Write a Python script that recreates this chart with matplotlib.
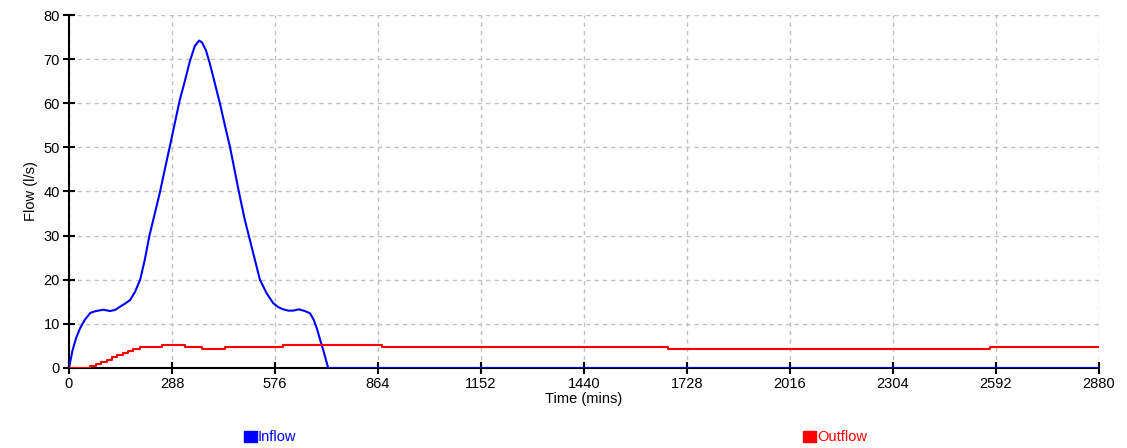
import matplotlib
matplotlib.use("Agg")
import matplotlib.pyplot as plt
from matplotlib.patches import Rectangle

plt.rcParams['font.family'] = ['Liberation Sans', 'DejaVu Sans']

# inflow hydrograph (mins, l/s)
in_t = [0, 10, 20, 31, 45, 60, 75, 96, 115, 130, 143, 157, 171, 185, 199, 212,
        225, 240, 254, 268, 282, 296, 310, 324, 338, 352, 364, 372, 383, 394,
        408, 422, 436, 450, 464, 478, 492, 506, 520, 534, 553, 571, 585, 599,
        613, 627, 643, 660, 674, 684, 693, 702, 711, 718, 725, 2880]
in_q = [0, 4, 6.8, 9, 11, 12.5, 12.9, 13.2, 12.9, 13.2, 13.9, 14.6, 15.4, 17.3,
        20, 24.5, 30, 35, 39.7, 45, 50.2, 55.5, 60.8, 65, 69.5, 73, 74.2, 73.8,
        72, 69, 64.5, 60, 55, 50.2, 44.5, 38.8, 33.5, 29, 24.5, 20, 16.9, 14.7,
        13.8, 13.3, 13.0, 13.0, 13.3, 12.9, 12.4, 11, 9, 6.5, 4.1, 2, 0, 0]

# outflow (stepped)
out_t = [0, 59, 75, 90, 105, 120, 135, 150, 165, 180, 199, 259, 324, 371, 436,
         599, 874, 1675, 2575, 2880]
out_q = [0, 0.4, 0.9, 1.4, 1.9, 2.4, 2.9, 3.3, 3.8, 4.2, 4.7, 5.2, 4.8, 4.2,
         4.7, 5.2, 4.8, 4.2, 4.8, 4.8]

xticks = [0, 288, 576, 864, 1152, 1440, 1728, 2016, 2304, 2592, 2880]
yticks = [0, 10, 20, 30, 40, 50, 60, 70, 80]

fig = plt.figure(figsize=(11.27, 4.48), dpi=100)
ax = fig.add_axes([0.0612, 0.1786, 0.9138, 0.7879])

ax.plot(in_t, in_q, color='#0000ff', lw=1.5, zorder=3)
ax.plot(out_t, out_q, color='#ff0000', lw=1.5, drawstyle='steps-post', zorder=3)

ax.set_xlim(0, 2880)
ax.set_ylim(0, 80)
ax.set_xticks(xticks)
ax.set_yticks(yticks)
ax.grid(True, color='#c0c0c0', linestyle=(0, (3, 3)), lw=1)
for s in ['top', 'right']:
    ax.spines[s].set_visible(False)
for s in ['left', 'bottom']:
    ax.spines[s].set_linewidth(1.5)
ax.tick_params(direction='inout', length=9, width=1.5, labelsize=10.5,
               colors='black', pad=2)
ax.set_xlabel('Time (mins)', fontsize=10.5, labelpad=1)
ax.set_ylabel('Flow (l/s)', fontsize=10.5, labelpad=4)

# legend below the plot
W, H = 1127, 448
for x0, name, col in [(244, 'Inflow', '#0000ff'), (803, 'Outflow', '#ff0000')]:
    fig.patches.append(Rectangle((x0 / W, 6 / H), 13 / W, 11 / H, color=col,
                                 transform=fig.transFigure, figure=fig))
    fig.text((x0 + 14) / W, 11.5 / H, name, color=col, fontsize=10.5, va='center')

fig.savefig('out.png', dpi=100)
